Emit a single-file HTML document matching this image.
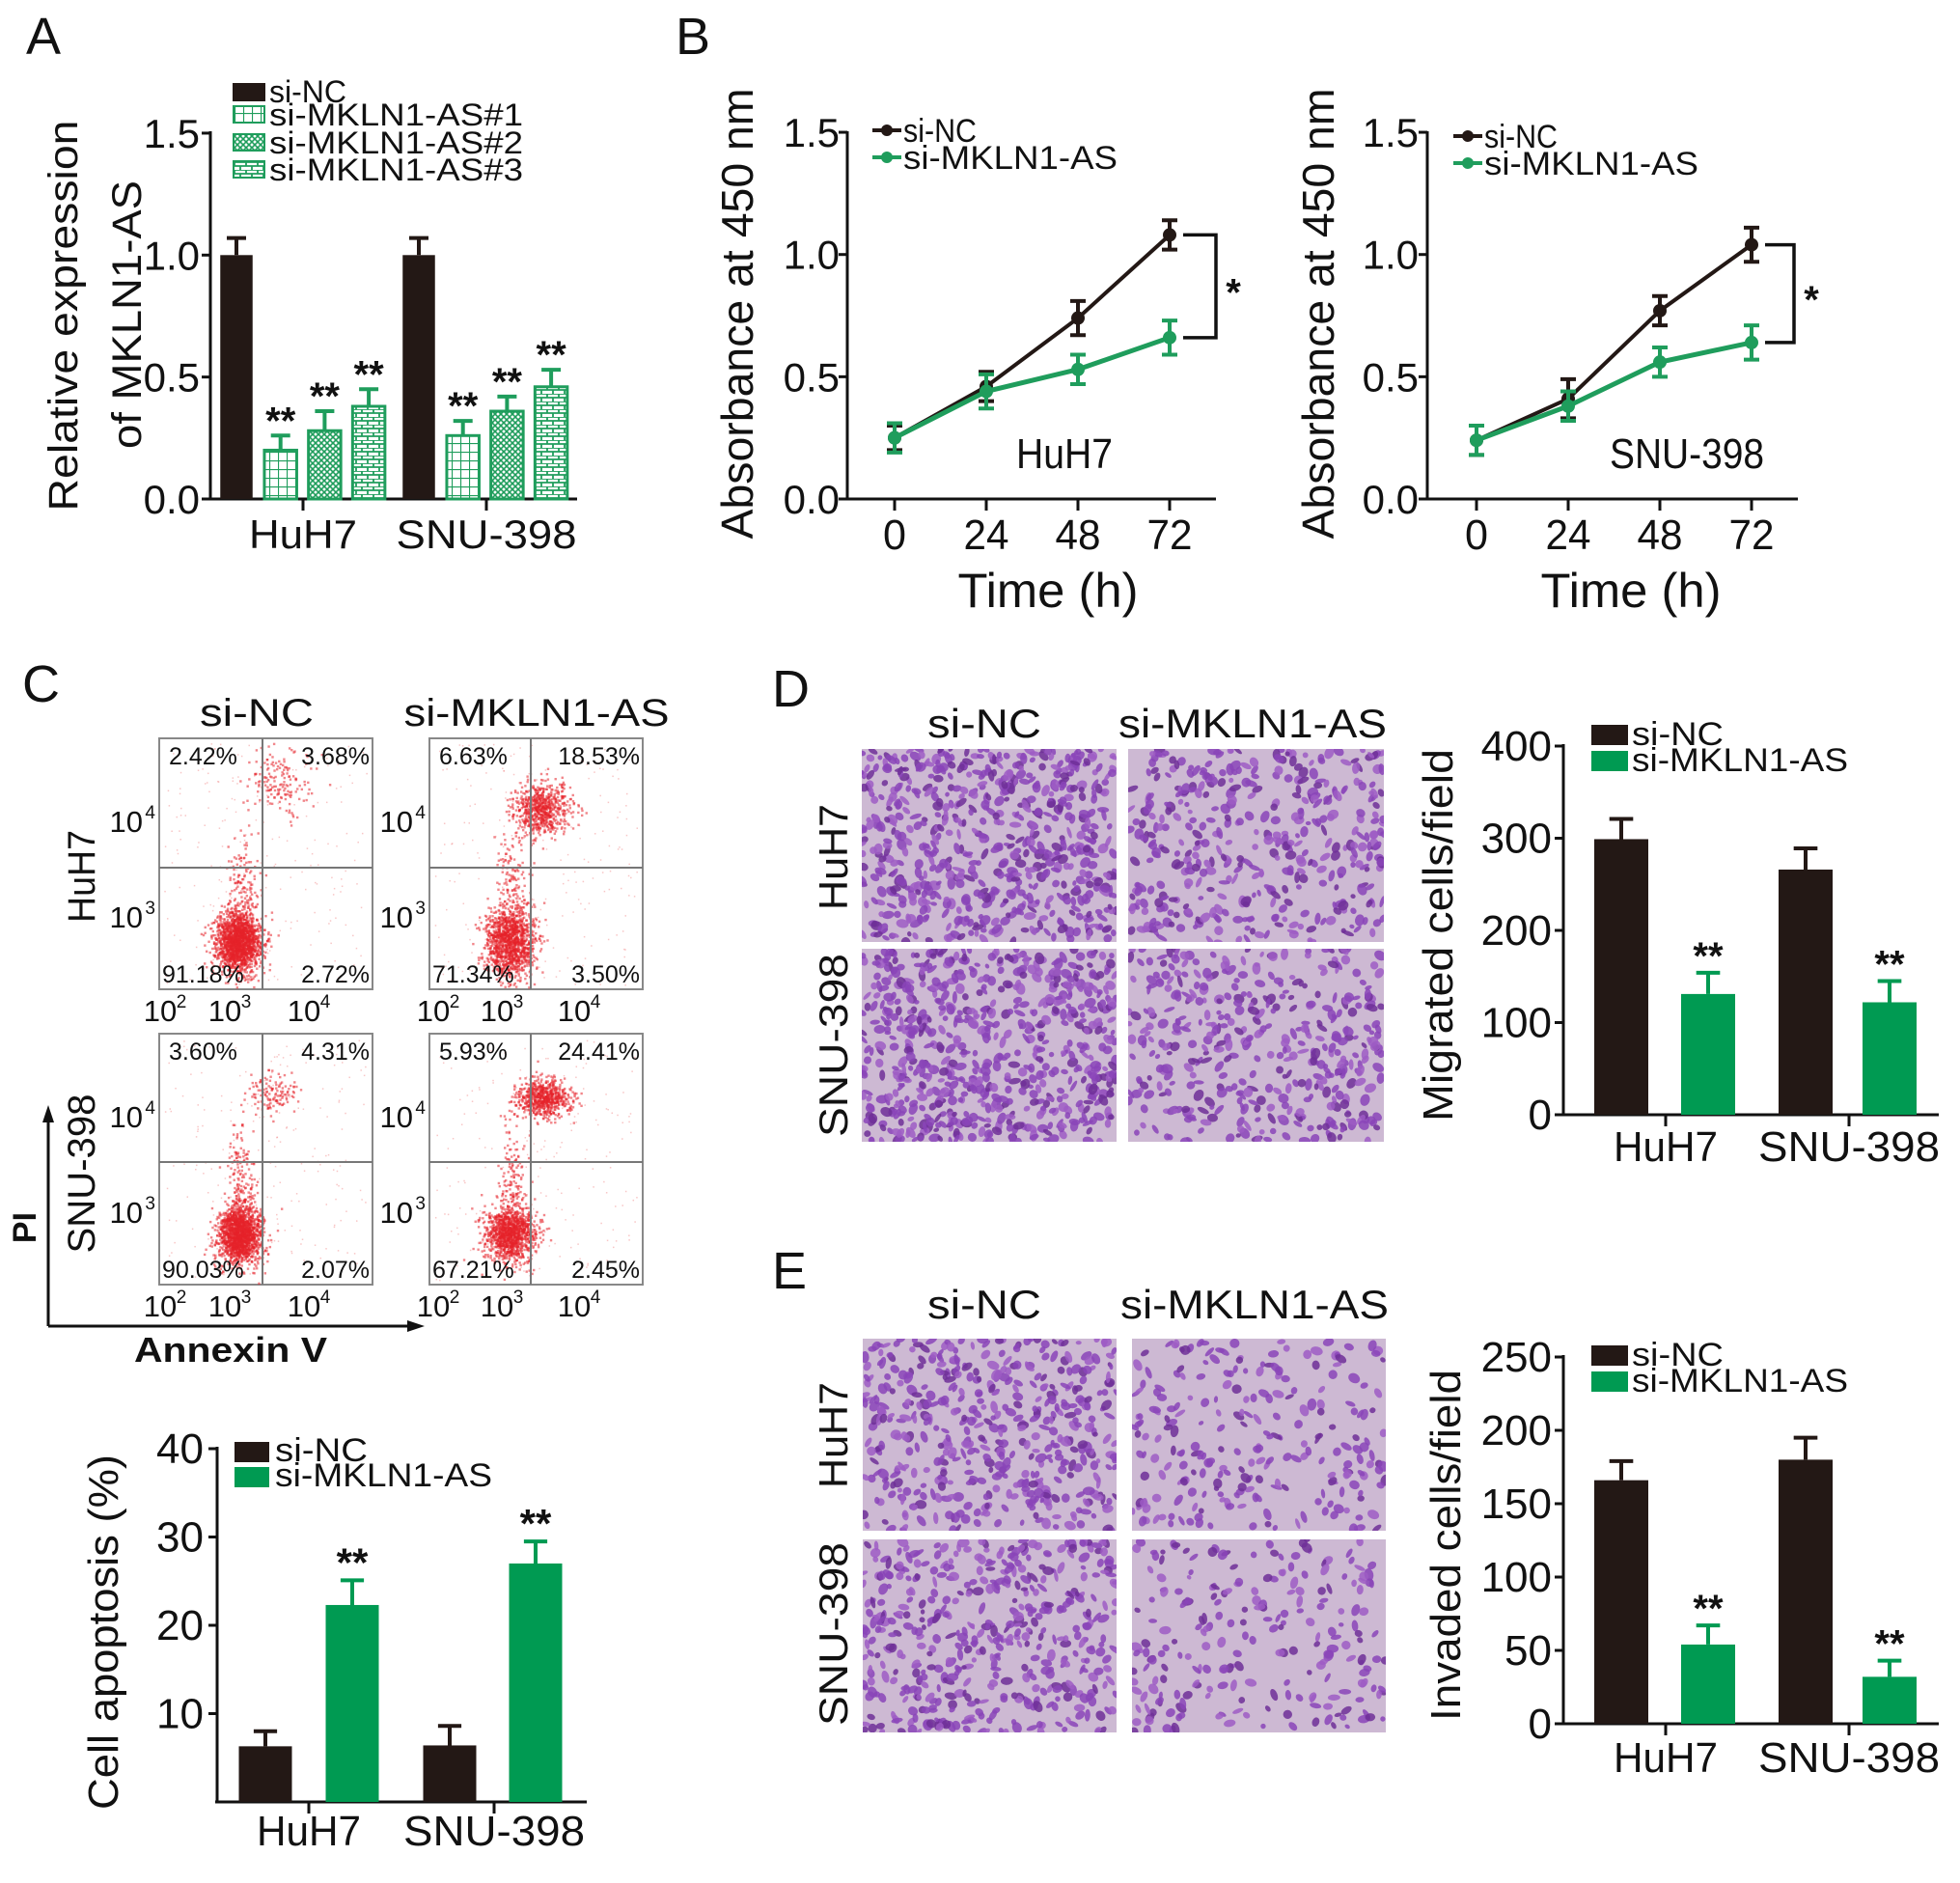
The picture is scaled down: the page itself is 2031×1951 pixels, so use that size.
<!DOCTYPE html>
<html><head><meta charset="utf-8"><style>
html,body{margin:0;padding:0;background:#fff}
svg{display:block}
text{font-family:"Liberation Sans",Arial,sans-serif;fill:#111}
</style></head><body>
<svg id="fig" width="2031" height="1951" viewBox="0 0 2031 1951" xmlns="http://www.w3.org/2000/svg">
<defs>
<pattern id="pGrid" width="9" height="9" patternUnits="userSpaceOnUse"><rect width="9" height="9" fill="#fff"/><path d="M0 0H9M0 0V9" stroke="#1f9d5c" stroke-width="2.2"/></pattern>
<pattern id="pHatch" width="6" height="6" patternUnits="userSpaceOnUse"><rect width="6" height="6" fill="#fff"/><path d="M0 0L6 6M6 0L0 6" stroke="#1f9d5c" stroke-width="1.6"/></pattern>
<pattern id="pBrick" width="12" height="8" patternUnits="userSpaceOnUse"><rect width="12" height="8" fill="#fff"/><path d="M0 0H12M0 4H12M3 0V4M9 4V8" stroke="#1f9d5c" stroke-width="1.8"/></pattern>
</defs>

<text x="27" y="56" font-size="54">A</text>
<text x="700" y="56" font-size="54">B</text>
<text x="23" y="727" font-size="54">C</text>
<text x="800" y="732" font-size="54">D</text>
<text x="800" y="1335" font-size="54">E</text>

<g id="chartA">
<text transform="translate(80,327) rotate(-90)" text-anchor="middle" font-size="43" textLength="405" lengthAdjust="spacingAndGlyphs">Relative expression</text>
<text transform="translate(146,326) rotate(-90)" text-anchor="middle" font-size="43" textLength="278" lengthAdjust="spacingAndGlyphs">of MKLN1-AS</text>
<g id="legendA">
<rect x="241" y="86" width="34" height="19" fill="#231815"/>
<text x="279" y="106" font-size="32" textLength="80" lengthAdjust="spacingAndGlyphs">si-NC</text>
<rect x="242" y="110" width="32" height="17" fill="url(#pGrid)" stroke="#1f9d5c" stroke-width="2"/>
<text x="279" y="130" font-size="32" textLength="263" lengthAdjust="spacingAndGlyphs">si-MKLN1-AS#1</text>
<rect x="242" y="139" width="32" height="17" fill="url(#pHatch)" stroke="#1f9d5c" stroke-width="2"/>
<text x="279" y="159" font-size="32" textLength="263" lengthAdjust="spacingAndGlyphs">si-MKLN1-AS#2</text>
<rect x="242" y="167" width="32" height="17" fill="url(#pBrick)" stroke="#1f9d5c" stroke-width="2"/>
<text x="279" y="187" font-size="32" textLength="263" lengthAdjust="spacingAndGlyphs">si-MKLN1-AS#3</text>
</g>
</g>

<g id="chartB1">
<text transform="translate(780,325) rotate(-90)" text-anchor="middle" font-size="46" textLength="467" lengthAdjust="spacingAndGlyphs">Absorbance at 450 nm</text>
<text x="1086" y="629" text-anchor="middle" font-size="50" textLength="187" lengthAdjust="spacingAndGlyphs">Time (h)</text>
<text x="1103" y="485" text-anchor="middle" font-size="44" textLength="100" lengthAdjust="spacingAndGlyphs">HuH7</text>
</g>
<g id="chartB2">
<text transform="translate(1382,325) rotate(-90)" text-anchor="middle" font-size="46" textLength="467" lengthAdjust="spacingAndGlyphs">Absorbance at 450 nm</text>
<text x="1690" y="629" text-anchor="middle" font-size="50" textLength="187" lengthAdjust="spacingAndGlyphs">Time (h)</text>
<text x="1748" y="485" text-anchor="middle" font-size="44" textLength="160" lengthAdjust="spacingAndGlyphs">SNU-398</text>
</g>

<g id="flow">
<text x="266" y="752" text-anchor="middle" font-size="40" textLength="118" lengthAdjust="spacingAndGlyphs">si-NC</text>
<text x="556" y="752" text-anchor="middle" font-size="40" textLength="275" lengthAdjust="spacingAndGlyphs">si-MKLN1-AS</text>
<text transform="translate(98,908) rotate(-90)" text-anchor="middle" font-size="40" textLength="96" lengthAdjust="spacingAndGlyphs">HuH7</text>
<text transform="translate(98,1216) rotate(-90)" text-anchor="middle" font-size="40" textLength="165" lengthAdjust="spacingAndGlyphs">SNU-398</text>
<line x1="50" y1="1374" x2="50" y2="1160" stroke="#111" stroke-width="3"/>
<polygon points="50,1145 44,1163 56,1163" fill="#111"/>
<line x1="50" y1="1374" x2="425" y2="1374" stroke="#111" stroke-width="3"/>
<polygon points="440,1374 422,1368 422,1380" fill="#111"/>
<text transform="translate(37,1272) rotate(-90)" text-anchor="middle" font-size="34" font-weight="bold">PI</text>
<text x="239" y="1411" text-anchor="middle" font-size="36" font-weight="bold" textLength="200" lengthAdjust="spacingAndGlyphs">Annexin V</text>
</g>

<g id="chartC">
<text transform="translate(122,1691) rotate(-90)" text-anchor="middle" font-size="44" textLength="368" lengthAdjust="spacingAndGlyphs">Cell apoptosis (%)</text>
<rect x="243" y="1494" width="36" height="21" fill="#231815"/>
<text x="285" y="1514" font-size="34" textLength="96" lengthAdjust="spacingAndGlyphs">si-NC</text>
<rect x="243" y="1520" width="36" height="21" fill="#009a52"/>
<text x="285" y="1540" font-size="34" textLength="225" lengthAdjust="spacingAndGlyphs">si-MKLN1-AS</text>
</g>

<g id="panelD">
<text x="1020" y="764" text-anchor="middle" font-size="42" textLength="118" lengthAdjust="spacingAndGlyphs">si-NC</text>
<text x="1298" y="764" text-anchor="middle" font-size="42" textLength="278" lengthAdjust="spacingAndGlyphs">si-MKLN1-AS</text>
<text transform="translate(878,888) rotate(-90)" text-anchor="middle" font-size="42" textLength="110" lengthAdjust="spacingAndGlyphs">HuH7</text>
<text transform="translate(878,1083) rotate(-90)" text-anchor="middle" font-size="42" textLength="190" lengthAdjust="spacingAndGlyphs">SNU-398</text>
<text transform="translate(1505,969) rotate(-90)" text-anchor="middle" font-size="44" textLength="386" lengthAdjust="spacingAndGlyphs">Migrated cells/field</text>
<rect x="1649" y="751" width="38" height="21" fill="#231815"/>
<text x="1691" y="772" font-size="34" textLength="95" lengthAdjust="spacingAndGlyphs">si-NC</text>
<rect x="1649" y="778" width="38" height="21" fill="#009a52"/>
<text x="1691" y="799" font-size="34" textLength="224" lengthAdjust="spacingAndGlyphs">si-MKLN1-AS</text>
</g>

<g id="panelE">
<text x="1020" y="1366" text-anchor="middle" font-size="42" textLength="118" lengthAdjust="spacingAndGlyphs">si-NC</text>
<text x="1300" y="1366" text-anchor="middle" font-size="42" textLength="278" lengthAdjust="spacingAndGlyphs">si-MKLN1-AS</text>
<text transform="translate(878,1487) rotate(-90)" text-anchor="middle" font-size="42" textLength="110" lengthAdjust="spacingAndGlyphs">HuH7</text>
<text transform="translate(878,1693) rotate(-90)" text-anchor="middle" font-size="42" textLength="190" lengthAdjust="spacingAndGlyphs">SNU-398</text>
<text transform="translate(1513,1601) rotate(-90)" text-anchor="middle" font-size="44" textLength="364" lengthAdjust="spacingAndGlyphs">Invaded cells/field</text>
<rect x="1649" y="1394" width="38" height="21" fill="#231815"/>
<text x="1691" y="1415" font-size="34" textLength="95" lengthAdjust="spacingAndGlyphs">si-NC</text>
<rect x="1649" y="1421" width="38" height="21" fill="#009a52"/>
<text x="1691" y="1442" font-size="34" textLength="224" lengthAdjust="spacingAndGlyphs">si-MKLN1-AS</text>
</g>
</svg>

<script>
// ---------- data ----------
const groupsA = ["HuH7", "SNU-398"];
const seriesA = ["si-NC", "si-MKLN1-AS#1", "si-MKLN1-AS#2", "si-MKLN1-AS#3"];
const valuesA_HuH7 = [1.0, 0.20, 0.28, 0.38];
const errorsA_HuH7 = [0.07, 0.06, 0.08, 0.07];
const valuesA_SNU = [1.0, 0.26, 0.36, 0.46];
const errorsA_SNU = [0.07, 0.06, 0.06, 0.07];
const ticksA = [0.0, 0.5, 1.0, 1.5];
const tickLabelsA = ["0.0", "0.5", "1.0", "1.5"];

const timesB = [0, 24, 48, 72];
const ticksB = [0.0, 0.5, 1.0, 1.5];
const tickLabelsB = ["0.0", "0.5", "1.0", "1.5"];
const huh7_NC = [0.25, 0.46, 0.74, 1.08];
const huh7_NC_err = [0.05, 0.06, 0.07, 0.06];
const huh7_si = [0.25, 0.44, 0.53, 0.66];
const huh7_si_err = [0.06, 0.07, 0.06, 0.07];
const snu_NC = [0.24, 0.41, 0.77, 1.04];
const snu_NC_err = [0.06, 0.08, 0.06, 0.07];
const snu_si = [0.24, 0.38, 0.56, 0.64];
const snu_si_err = [0.06, 0.06, 0.06, 0.07];

const groupsBar = ["HuH7", "SNU-398"];
const apoptosisNC = [6.3, 6.4];
const apoptosisNC_err = [1.7, 2.2];
const apoptosisSi = [22.3, 27.0];
const apoptosisSi_err = [2.8, 2.5];
const ticksC = [10, 20, 30, 40];

const migratedNC = [299, 266];
const migratedNC_err = [22, 23];
const migratedSi = [131, 122];
const migratedSi_err = [23, 23];
const ticksD = [0, 100, 200, 300, 400];

const invadedNC = [166, 180];
const invadedNC_err = [13, 15];
const invadedSi = [54, 32];
const invadedSi_err = [13, 11];
const ticksE = [0, 50, 100, 150, 200, 250];

const flowLabels = [
  ["2.42%","3.68%","91.18%","2.72%"],
  ["6.63%","18.53%","71.34%","3.50%"],
  ["3.60%","4.31%","90.03%","2.07%"],
  ["5.93%","24.41%","67.21%","2.45%"]
];

// ---------- helpers ----------
const NS = "http://www.w3.org/2000/svg";
const svg = document.getElementById("fig");
function mk(tag, attrs, parent) {
  const el = document.createElementNS(NS, tag);
  for (const k in attrs) el.setAttribute(k, attrs[k]);
  (parent || svg).appendChild(el);
  return el;
}
const BLACK = "#231815", GREEN = "#009a52", LGREEN = "#1f9d5c";

function yAxis(g, x, yTop, yBot, ticks, labels, scale, labelEnd, fs) {
  let el = mk("line", {x1:x, y1:yTop, x2:x, y2:yBot, stroke:"#111", "stroke-width":3}, g);
  
  
  ticks.forEach((t, i) => {
    const y = scale(t);
    let tk = mk("line", {x1:x-9, y1:y, x2:x, y2:y, stroke:"#111", "stroke-width":3}, g);
    
    
    let tl = mk("text", {x:labelEnd, y:y+15, "text-anchor":"end", "font-size":fs}, g);
    tl.textContent = labels[i];
    
    
  });
}
function xAxis(g, x1, x2, y) {
  let el = mk("line", {x1:x1, y1:y, x2:x2, y2:y, stroke:"#111", "stroke-width":3}, g);
  
  
}
function catLabel(g, x, y, txt, tl, fs) {
  let t = mk("text", {x:x, y:y, "text-anchor":"middle", "font-size":fs, textLength:tl, lengthAdjust:"spacingAndGlyphs"}, g);
  t.textContent = txt;
  
  
}
function xTick(g, x, y) {
  let tk = mk("line", {x1:x, y1:y, x2:x, y2:y+12, stroke:"#111", "stroke-width":3}, g);
  
  
}
function errBar(g, cx, yTop, yErr, color, cap) {
  let l = mk("path", {d:`M${cx},${yTop}V${yErr}M${cx-cap},${yErr}H${cx+cap}`, stroke:color, "stroke-width":4, fill:"none"}, g);
  
  
}
function stars(g, cx, y, txt, fs) {
  let s = mk("text", {x:cx, y:y, "text-anchor":"middle", "font-size":fs, "font-weight":"bold"}, g);
  s.textContent = txt;
  
  
}

// ---------- Panel A ----------
(function(){
  const g = document.getElementById("chartA");
  const y = v => 517 - v * 252.7;
  yAxis(g, 218, 136, 518, ticksA, tickLabelsA, y, 207, 42);
  xAxis(g, 216, 598, 517);
  const groupX = [245, 434], step = 45.7, w = 33.5;
  const fills = [BLACK, "url(#pGrid)", "url(#pHatch)", "url(#pBrick)"];
  const vals = [valuesA_HuH7, valuesA_SNU], errs = [errorsA_HuH7, errorsA_SNU];
  groupsA.forEach((gname, gi) => {
    seriesA.forEach((s, si) => {
      const cx = groupX[gi] + si * step;
      const v = vals[gi][si], e = errs[gi][si];
      const col = si === 0 ? BLACK : LGREEN;
      errBar(g, cx, y(v), y(v + e), col, 10);
      let b = mk("rect", {x:cx - w/2, y:y(v), width:w, height:517 - y(v), fill:fills[si], stroke:si===0?"none":LGREEN, "stroke-width":3}, g);
      
      
      if (si > 0) stars(g, cx, y(v + e) - 2, "**", 40);
    });
    const tx = [314, 504][gi];
    xTick(g, tx, 517);
    catLabel(g, tx, 568, gname, gi ? 187 : 112, 42);
  });
})();

// ---------- Panel B ----------
function lineChart(gid, ax, xEnd, x0, times, nc, ncE, si, siE, tickEnd, legX, legY, brX) {
  const g = document.getElementById(gid);
  const y = v => 517 - v * 253.3;
  const x = t => x0 + t / 24 * 95;
  yAxis(g, ax, 136, 518, ticksB, tickLabelsB, y, tickEnd, 42);
  xAxis(g, ax - 2, xEnd, 517);
  times.forEach(t => {
    xTick(g, x(t), 517);
    let tl = mk("text", {x:x(t), y:569, "text-anchor":"middle", "font-size":44, textLength:t===0?24:47, lengthAdjust:"spacingAndGlyphs"}, g);
    tl.textContent = String(t);
    
    
  });
  [[nc, ncE, BLACK, 'si-nc'], [si, siE, LGREEN, 'si-mkln1-as']].forEach(([vals, errs, col, nm]) => {
    const pts = times.map((t, i) => x(t) + "," + y(vals[i])).join(" ");
    let pl = mk("polyline", {points:pts, fill:"none", stroke:col, "stroke-width":col===BLACK?4:5}, g);
    
    
    times.forEach((t, i) => {
      let e = mk("path", {d:`M${x(t)},${y(vals[i]-errs[i])}V${y(vals[i]+errs[i])}M${x(t)-8},${y(vals[i]-errs[i])}h16M${x(t)-8},${y(vals[i]+errs[i])}h16`, stroke:col, "stroke-width":4, fill:"none"}, g);
      
      
      let c = mk("circle", {cx:x(t), cy:y(vals[i]), r:7, fill:col}, g);
      
      
    });
  });
  const last = times.length - 1;
  const yA = y(nc[last]), yB = y(si[last]);
  let br = mk("path", {d:`M${x(times[last])+14},${yA}H${brX}V${yB}H${x(times[last])+14}`, stroke:"#111", "stroke-width":3.5, fill:"none"}, g);
  
  
  stars(g, brX + 18, (yA + yB) / 2 + 20, "*", 40);
  [[BLACK, "si-NC", 76], [LGREEN, "si-MKLN1-AS", 222]].forEach(([col, txt, tl], i) => {
    const ly = legY + i * 28;
    let ln = mk("line", {x1:legX, y1:ly, x2:legX + 30, y2:ly, stroke:col, "stroke-width":4}, g);
    
    
    let c = mk("circle", {cx:legX + 15, cy:ly, r:6, fill:col}, g);
    
    
    let t = mk("text", {x:legX + 32, y:ly + 12, "font-size":34, textLength:tl, lengthAdjust:"spacingAndGlyphs"}, g);
    t.textContent = txt;
    
    
  });
}
lineChart("chartB1", 878, 1260, 927, timesB, huh7_NC, huh7_NC_err, huh7_si, huh7_si_err, 870, 904, 135, 1260);
lineChart("chartB2", 1479, 1863, 1530, timesB, snu_NC, snu_NC_err, snu_si, snu_si_err, 1470, 1506, 141, 1859);

// ---------- Panel C flow plots ----------
(function(){
  const g = document.getElementById("flow");
  let seed = 12345;
  function rnd(){ seed |= 0; seed = seed + 0x6D2B79F5 | 0; let t = Math.imul(seed ^ seed >>> 15, 1 | seed); t = t + Math.imul(t ^ t >>> 7, 61 | t) ^ t; return ((t ^ t >>> 14) >>> 0) / 4294967296; }
  function gauss(){ return Math.sqrt(-2*Math.log(rnd()+1e-9))*Math.cos(2*Math.PI*rnd()); }
  const boxes = [[165,765,272,899],[445,765,550,899],[165,1071,272,1204],[445,1071,550,1204]];
  const clusters = [
    [[246,975,12,16,1800],[289,808,16,18,160],[250,920,8,30,150]],
    [[528,975,13,18,1300],[560,836,15,13,700],[530,920,8,30,150]],
    [[248,1278,11,15,1700],[282,1132,12,11,130],[250,1225,8,30,150]],
    [[528,1278,13,14,1200],[562,1137,14,10,700],[530,1225,8,30,150]]
  ];
  boxes.forEach((b, bi) => {
    const [x0, y0, vx, hy] = b, x1 = x0 + 221, y1 = y0 + 260;
    let r = mk("rect", {x:x0, y:y0, width:221, height:260, fill:"#fff", stroke:"#888", "stroke-width":2}, g);
    
    
    const dots = mk("g", {}, g);
    
    
    clusters[bi].forEach(([cx, cy, sx, sy, n]) => {
      for (let i = 0; i < n; i++) {
        const px = cx + gauss()*sx, py = cy + gauss()*sy;
        if (px < x0+2 || px > x1-2 || py < y0+2 || py > y1-2) continue;
        mk("rect", {x:px, y:py, width:2.4, height:2.4, fill:"#e5222a", opacity:0.55}, dots);
      }
    });
    for (let i = 0; i < 200; i++) {
      const px = x0 + 5 + rnd()*210, py = y0 + 5 + rnd()*250;
      mk("rect", {x:px, y:py, width:1.5, height:1.5, fill:"#f08080", opacity:0.45}, dots);
    }
    let q = mk("path", {d:`M${vx},${y0}V${y1}M${x0},${hy}H${x1}`, stroke:"#777", "stroke-width":2}, g);
    
    
    const L = flowLabels[bi];
    const pos = [[x0+10, y0+27, "start"], [x1-3, y0+27, "end"], [x0+3, y1-7, "start"], [x1-3, y1-7, "end"]];
    pos.forEach(([px, py, anc], qi) => {
      let t = mk("text", {x:px, y:py, "text-anchor":anc, "font-size":25, fill:"#333"}, g);
      t.textContent = L[qi];
      
      
    });
    const yl = [[y0+97, "4"], [y0+196, "3"]];
    yl.forEach(([py, ex]) => {
      let t = mk("text", {x:x0-17, y:py, "text-anchor":"end", "font-size":31}, g);
      t.textContent = "10";
      
      
      let s = mk("text", {x:x0-4, y:py-14, "text-anchor":"end", "font-size":19}, g);
      s.textContent = ex;
    });
    const xs = bi % 2 === 0 ? [172, 239, 321] : [455, 521, 601];
    ["2","3","4"].forEach((ex, k) => {
      let t = mk("text", {x:xs[k]-6, y:y1+33, "text-anchor":"middle", "font-size":31}, g);
      t.textContent = "10";
      
      
      let s = mk("text", {x:xs[k]+16, y:y1+19, "text-anchor":"middle", "font-size":19}, g);
      s.textContent = ex;
    });
  });
})();

// ---------- Bar charts ----------
function barChart(gid, ax, xEnd, y0, unit, ticks, tickEnd, nc, ncE, si, siE, centers, tickX, catY, cats, bw, starFs) {
  const g = document.getElementById(gid);
  const y = v => y0 - v * unit;
  yAxis(g, ax, y(ticks[ticks.length-1]) - 2, y0 + 1, ticks, ticks.map(String), y, tickEnd, 44);
  xAxis(g, ax - 2, xEnd, y0);
  cats.forEach((c, i) => {
    [[nc, ncE, BLACK, 0, 'si-nc'], [si, siE, GREEN, 1, 'si-mkln1-as']].forEach(([v, e, col, k, nm]) => {
      const cx = centers[i][k];
      errBar(g, cx, y(v[i]), y(v[i] + e[i]), col, bw*0.22);
      let b = mk("rect", {x:cx - bw/2, y:y(v[i]), width:bw, height:y0 - y(v[i]), fill:col}, g);
      
      
      if (k === 1) stars(g, cx, y(v[i] + e[i]) - 4, "**", starFs);
    });
    xTick(g, tickX[i], y0);
    catLabel(g, tickX[i], catY, c, i ? 188 : 108, 44);
  });
}
barChart("chartC", 225, 608, 1867, 9.15, ticksC, 211, apoptosisNC, apoptosisNC_err, apoptosisSi, apoptosisSi_err,
  [[275, 365], [466, 555]], [320, 512], 1912, groupsBar, 55, 42);
barChart("panelD", 1620, 2009, 1155, 0.955, ticksD, 1608, migratedNC, migratedNC_err, migratedSi, migratedSi_err,
  [[1680, 1770], [1871, 1958]], [1726, 1916], 1203, groupsBar, 56, 40);
barChart("panelE", 1620, 2009, 1786, 1.52, ticksE, 1608, invadedNC, invadedNC_err, invadedSi, invadedSi_err,
  [[1680, 1770], [1871, 1958]], [1726, 1916], 1836, groupsBar, 56, 40);

// ---------- Microscopy images ----------
(function(){
  let seed = 987;
  function rnd(){ seed |= 0; seed = seed + 0x6D2B79F5 | 0; let t = Math.imul(seed ^ seed >>> 15, 1 | seed); t = t + Math.imul(t ^ t >>> 7, 61 | t) ^ t; return ((t ^ t >>> 14) >>> 0) / 4294967296; }
  const imgs = [
    ["panelD", 893, 776, 264, 200, 650, "image-d-huh7-si-nc"],
    ["panelD", 1169, 776, 265, 200, 420, "image-d-huh7-si-mkln1-as"],
    ["panelD", 893, 983, 264, 200, 680, "image-d-snu398-si-nc"],
    ["panelD", 1169, 983, 265, 200, 420, "image-d-snu398-si-mkln1-as"],
    ["panelE", 894, 1387, 263, 199, 480, "image-e-huh7-si-nc"],
    ["panelE", 1173, 1387, 263, 199, 250, "image-e-huh7-si-mkln1-as"],
    ["panelE", 894, 1595, 263, 200, 480, "image-e-snu398-si-nc"],
    ["panelE", 1173, 1595, 263, 200, 230, "image-e-snu398-si-mkln1-as"]
  ];
  imgs.forEach(([gid, x, y, w, h, n, nm]) => {
    const g = document.getElementById(gid);
    const im = mk("g", {}, g);
    
    
    mk("rect", {x:x, y:y, width:w, height:h, fill:"#cdb9d3"}, im);
    const clip = mk("clipPath", {id:"c" + nm}, im);
    mk("rect", {x:x, y:y, width:w, height:h}, clip);
    const cells = mk("g", {"clip-path":"url(#c" + nm + ")"}, im);
    for (let i = 0; i < n; i++) {
      const cx = x + rnd()*w, cy = y + rnd()*h;
      const rx = 2.5 + rnd()*4, ry = 2 + rnd()*3;
      const shade = rnd();
      mk("ellipse", {cx:cx, cy:cy, rx:rx, ry:ry, transform:`rotate(${rnd()*180} ${cx} ${cy})`,
        fill: shade < 0.5 ? "#8a44b8" : (shade < 0.8 ? "#9d5cc4" : "#6e2f98"), opacity:0.85}, cells);
    }
  });
})();
</script>
</body></html>
